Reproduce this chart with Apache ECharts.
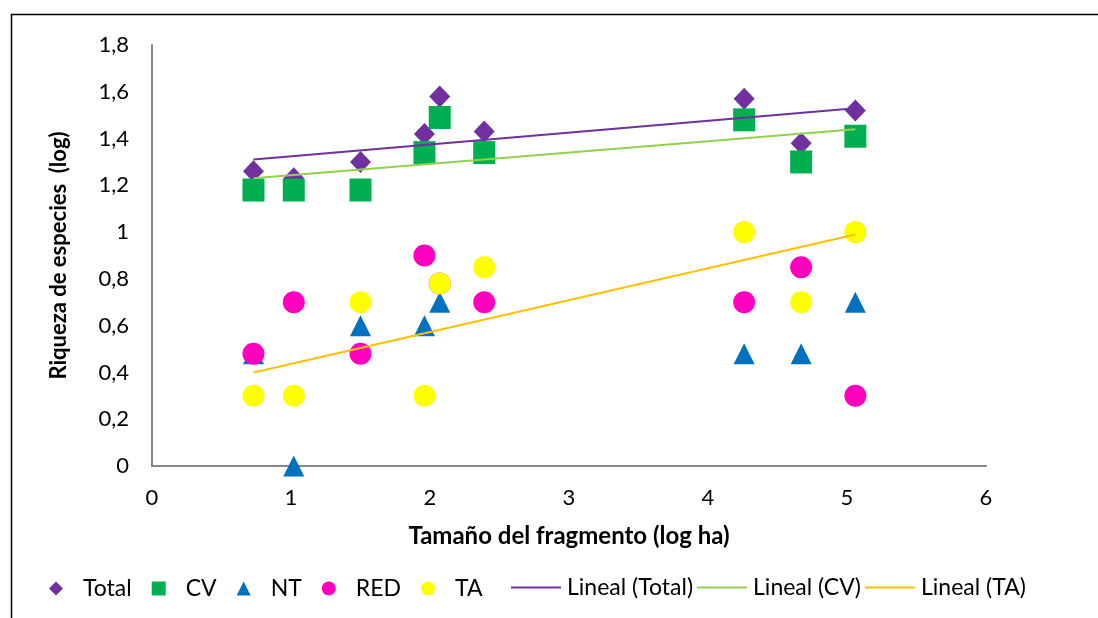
<!DOCTYPE html>
<html>
<head>
<meta charset="utf-8">
<script src="https://cdn.jsdelivr.net/npm/echarts@6/dist/echarts.min.js"></script>
<style>
html,body{margin:0;padding:0;background:#fff;}
#chart{width:1098px;height:618px;}
</style>
</head>
<body>
<div id="chart"></div>
<script>
// Fragment size (log ha) for each site
const xVals = [0.73, 1.02, 1.50, 1.96, 2.07, 2.39, 4.26, 4.67, 5.06];
// Species richness (log) per group
const totalVals = [1.26, 1.23, 1.30, 1.42, 1.58, 1.43, 1.57, 1.38, 1.52];
const cvVals    = [1.18, 1.18, 1.18, 1.34, 1.49, 1.34, 1.48, 1.30, 1.41];
const ntVals    = [0.48, 0.00, 0.60, 0.60, 0.70, null, 0.48, 0.48, 0.70];
const redVals   = [0.48, 0.70, 0.48, 0.90, 0.78, 0.70, 0.70, 0.85, 0.30];
const taVals    = [0.30, 0.30, 0.70, 0.30, 0.78, 0.85, 1.00, 0.70, 1.00];
// Linear trend lines: [x, y] endpoints
const trendTotal = [[0.73, 1.31], [5.06, 1.53]];
const trendCV    = [[0.73, 1.23], [5.06, 1.44]];
const trendTA    = [[0.73, 0.40], [5.06, 0.99]];
const seriesNames = ['Total', 'CV', 'NT', 'RED', 'TA'];
const trendNames = ['Lineal (Total)', 'Lineal (CV)', 'Lineal (TA)'];
const xTicks = {min: 0, max: 6, interval: 1};
const yTicks = {min: 0, max: 1.8, interval: 0.2};

function pts(vals) {
  return xVals.map((x, i) => vals[i] === null ? null : [x, vals[i]]).filter(p => p);
}

const FONT = 'Lato';
const chart = echarts.init(document.getElementById('chart'), null, {renderer: 'canvas'});

const scatterDefs = [
  {name: seriesNames[0], vals: totalVals, symbol: 'diamond', size: [21, 22], color: '#7030A0'},
  {name: seriesNames[1], vals: cvVals, symbol: 'rect', size: [22, 23], color: '#00B050'},
  {name: seriesNames[2], vals: ntVals, symbol: 'triangle', size: [21, 21], color: '#0070C0'},
  {name: seriesNames[3], vals: redVals, symbol: 'circle', size: 22, color: '#FF00BF'},
  {name: seriesNames[4], vals: taVals, symbol: 'circle', size: 22, color: '#FFFF00'}
];
const trendDefs = [
  {name: trendNames[0], data: trendTotal, color: '#7030A0'},
  {name: trendNames[1], data: trendCV, color: '#92D050'},
  {name: trendNames[2], data: trendTA, color: '#FFC000'}
];

const series = [];
scatterDefs.forEach(d => series.push({
  type: 'scatter', name: d.name, data: pts(d.vals), symbol: d.symbol,
  symbolSize: d.size, itemStyle: {color: d.color, opacity: 1}, z: 2
}));
trendDefs.forEach(d => series.push({
  type: 'line', name: d.name, data: d.data, showSymbol: false, symbol: 'none',
  lineStyle: {color: d.color, width: 2}, itemStyle: {color: d.color}, z: 3
}));

const fmt = v => String(Math.round(v * 10) / 10).replace('.', ',');

chart.setOption({
  animation: false,
  backgroundColor: '#ffffff',
  grid: {left: 152, right: 112, top: 45, bottom: 152, containLabel: false},
  xAxis: {
    type: 'value', min: xTicks.min, max: xTicks.max, interval: xTicks.interval,
    name: 'Tamaño del fragmento (log ha)', nameLocation: 'middle', nameGap: 58,
    nameTextStyle: {fontFamily: FONT, fontSize: 24, fontWeight: 'bold', color: '#000'},
    axisLine: {show: true, onZero: false, lineStyle: {color: '#868686', width: 2}},
    axisTick: {show: false}, splitLine: {show: false},
    axisLabel: {fontFamily: FONT, fontSize: 22, color: '#000', margin: 21, formatter: fmt}
  },
  yAxis: {
    type: 'value', min: yTicks.min, max: yTicks.max, interval: yTicks.interval,
    name: 'Riqueza de especies  (log)', nameLocation: 'middle', nameGap: 82, nameRotate: 90,
    nameTextStyle: {fontFamily: FONT, fontSize: 22, fontWeight: 'bold', color: '#000'},
    axisLine: {show: true, lineStyle: {color: '#868686', width: 2}},
    axisTick: {show: false}, splitLine: {show: false},
    axisLabel: {fontFamily: FONT, fontSize: 22, color: '#000', margin: 23, formatter: fmt}
  },
  legend: [
    {
      data: seriesNames, left: 49, top: 577, orient: 'horizontal', padding: 0,
      itemWidth: 14, itemHeight: 14, itemGap: 20, selectedMode: false,
      textStyle: {fontFamily: FONT, fontSize: 23, color: '#000', padding: [0, 0, 0, 15]}
    },
    {
      data: trendNames.map(n => ({name: n, icon: 'rect'})), left: 511, top: 576,
      orient: 'horizontal', padding: 0,
      itemWidth: 50, itemHeight: 2, itemGap: 4, selectedMode: false,
      textStyle: {fontFamily: FONT, fontSize: 23, color: '#000', padding: [0, 0, 0, 1]}
    }
  ],
  graphic: [{
    type: 'rect', left: 9, top: 12, silent: true,
    shape: {width: 1200, height: 800},
    style: {fill: 'none', stroke: '#000', lineWidth: 1.5}, z: 100
  }],
  series: series
});
</script>
</body>
</html>
